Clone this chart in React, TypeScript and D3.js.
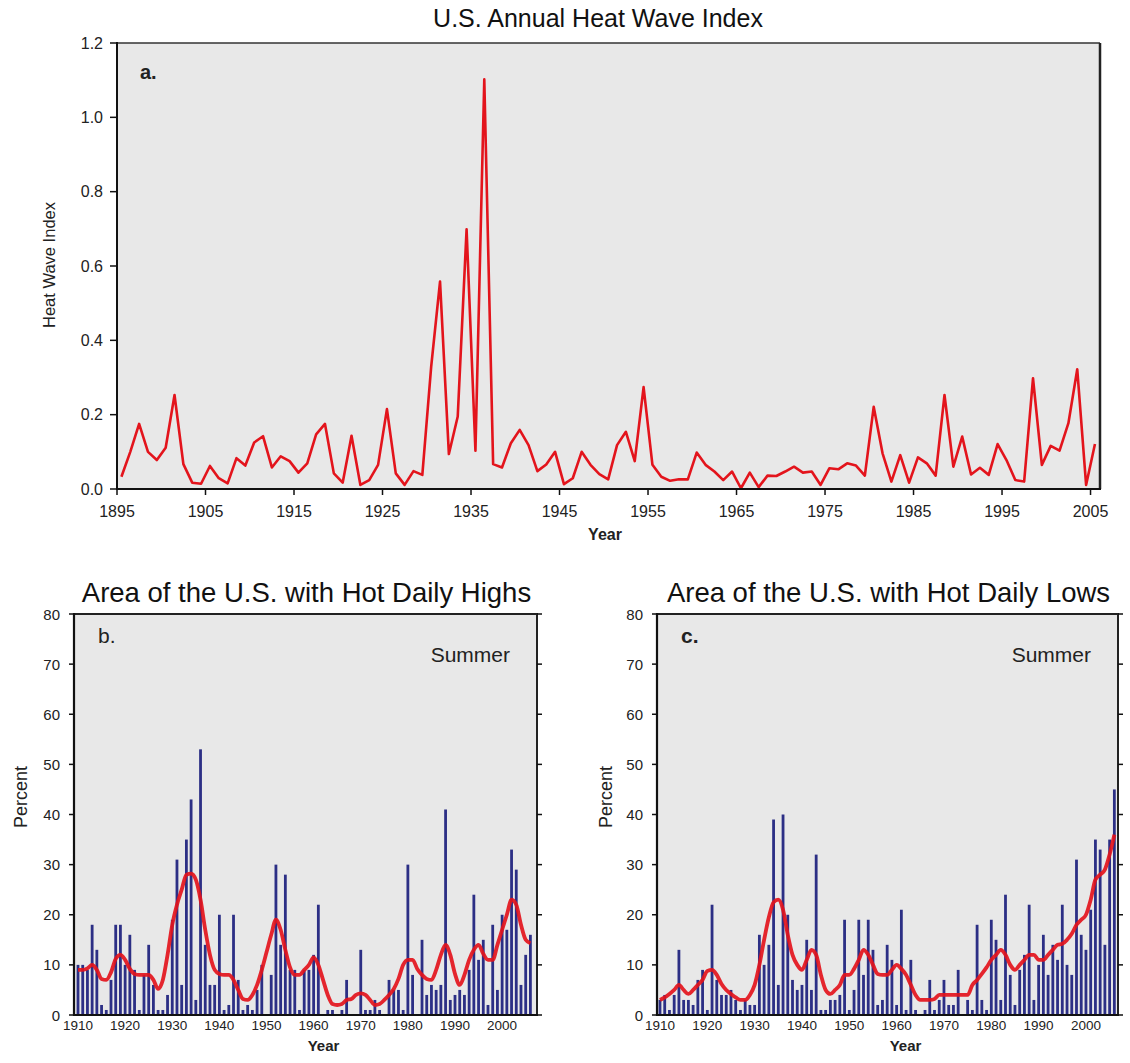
import React from "react";
import * as d3 from "d3";

// ---------- Panel a: U.S. Annual Heat Wave Index ----------
const heatYears: number[] = d3.range(1895, 2006);
const heatIndex: number[] = [
  0.033, 0.10, 0.175, 0.10, 0.078, 0.111, 0.253, 0.067, 0.017, 0.014,
  0.062, 0.029, 0.015, 0.083, 0.063, 0.125, 0.142, 0.058, 0.088, 0.075,
  0.044, 0.069, 0.147, 0.175, 0.042, 0.017, 0.143, 0.011, 0.024, 0.065,
  0.215, 0.042, 0.011, 0.048, 0.038, 0.329, 0.558, 0.094, 0.195, 0.699,
  0.103, 1.102, 0.067, 0.058, 0.123, 0.159, 0.118, 0.048, 0.066, 0.100,
  0.013, 0.029, 0.100, 0.065, 0.040, 0.026, 0.118, 0.154, 0.075, 0.274,
  0.065, 0.033, 0.022, 0.026, 0.026, 0.098, 0.065, 0.047, 0.024, 0.047,
  0.002, 0.044, 0.005, 0.036, 0.035, 0.047, 0.060, 0.044, 0.047, 0.011,
  0.056, 0.053, 0.069, 0.063, 0.036, 0.221, 0.096, 0.020, 0.091, 0.017,
  0.085, 0.069, 0.036, 0.253, 0.060, 0.141, 0.039, 0.057, 0.038, 0.121,
  0.078, 0.024, 0.020, 0.298, 0.065, 0.116, 0.103, 0.177, 0.322, 0.011,
  0.121,
];
const heatYTicks: number[] = [0, 0.2, 0.4, 0.6, 0.8, 1.0, 1.2];
const heatXTicks: number[] = [1895, 1905, 1915, 1925, 1935, 1945, 1955, 1965, 1975, 1985, 1995, 2005];

// ---------- Panels b & c ----------
const summerYears: number[] = d3.range(1910, 2007);
const highsPct: number[] = [
  10, 10, 9, 18, 13, 2, 1, 7, 18, 18,
  10, 16, 9, 1, 8, 14, 6, 1, 1, 4,
  19, 31, 6, 35, 43, 3, 53, 14, 6, 6,
  20, 1, 2, 20, 7, 1, 2, 1, 5, 10,
  0, 8, 30, 14, 28, 9, 9, 1, 9, 9,
  12, 22, 0, 1, 1, 0, 1, 7, 0, 0,
  13, 1, 1, 3, 1, 0, 7, 5, 5, 1,
  30, 8, 0, 15, 4, 6, 5, 6, 41, 3,
  4, 5, 4, 9, 24, 11, 15, 2, 18, 5,
  20, 17, 33, 29, 6, 12, 16,
];
const highsSmooth: number[] = [
  9, 9, 9.3, 10, 9, 7.2, 7, 8.5, 11.2, 12,
  11, 9.2, 8.2, 8, 8, 8, 7, 5.2, 7, 12,
  18, 22, 25, 28, 28.2, 27, 23, 17, 12, 9,
  8.2, 8, 8, 7, 5, 3.2, 3, 4, 6, 9,
  12.5, 16, 19, 17, 13, 9.5, 8, 8, 9, 10,
  11.5, 10, 7, 4, 2.2, 2, 2.2, 3, 3.2, 4,
  4.3, 4, 3, 2, 2.2, 3, 4, 5.2, 7.2, 10,
  11, 11, 9.2, 8, 7.2, 7, 9, 12, 14, 12,
  8.2, 6, 8, 11, 13, 14, 12.2, 11, 11, 14,
  17, 20, 23, 22, 18, 15, 14.3,
];
const lowsPct: number[] = [
  3, 4, 1, 4, 13, 3, 3, 2, 7, 9,
  1, 22, 7, 4, 4, 5, 3, 1, 3, 2,
  2, 16, 10, 14, 39, 6, 40, 20, 7, 5,
  6, 15, 5, 32, 1, 1, 3, 3, 4, 19,
  1, 5, 19, 8, 19, 13, 2, 3, 14, 11,
  2, 21, 1, 11, 1, 0, 1, 7, 1, 3,
  7, 2, 2, 9, 0, 3, 1, 18, 3, 1,
  19, 15, 3, 24, 8, 2, 9, 12, 22, 3,
  10, 16, 8, 14, 11, 22, 10, 8, 31, 16,
  13, 21, 35, 33, 14, 35, 45,
];
const lowsSmooth: number[] = [
  3, 3.5, 4.2, 5, 6, 5, 4.2, 5, 6, 7,
  8.8, 9, 8, 6.2, 5, 4.2, 3.5, 3, 3, 4,
  6, 10, 15, 19.5, 22.5, 23, 21, 16, 12, 10,
  9, 11, 13, 12, 8, 5, 4.2, 5, 6, 8,
  8, 9.2, 11, 13, 12, 10, 8.2, 8, 8, 9,
  10, 9.2, 8, 6, 4, 3, 3, 3, 3.2, 4,
  4, 4, 4, 4, 4, 4, 6, 7, 8.2, 9.5,
  11, 12, 13, 12, 10, 9, 10, 11, 12, 12,
  11, 11, 12, 13, 14, 14.2, 15, 16.2, 18, 19,
  20, 23, 27, 28, 29, 32, 36,
];
const pctTicks: number[] = [0, 10, 20, 30, 40, 50, 60, 70, 80];
const summerXTicks: number[] = [1910, 1920, 1930, 1940, 1950, 1960, 1970, 1980, 1990, 2000];

const FONT = "'Liberation Sans', Arial, Helvetica, sans-serif";
const BG = "#e8e8e8";
const RED = "#e3141c";
const BAR = "#2c2f85";

function HeatPanel() {
  const L = 117, R = 1100, T = 43, B = 489;
  const x = d3.scaleLinear().domain([1895, 2006.07]).range([L, R]);
  const y = d3.scaleLinear().domain([0, 1.2]).range([B, T]);
  const line = d3
    .line<number>()
    .x((_, i) => x(heatYears[i] + 0.5))
    .y((d) => y(d));
  return (
    <g fontFamily={FONT}>
      <text x={598} y={27} textAnchor="middle" fontSize={25} fill="#111">
        U.S. Annual Heat Wave Index
      </text>
      <rect x={L} y={T} width={R - L} height={B - T} fill={BG} />
      <path d={line(heatIndex) || ""} fill="none" stroke={RED} strokeWidth={2.6} strokeLinejoin="round" />
      <line x1={L} y1={T} x2={R} y2={T} stroke="#333" strokeWidth={1.5} />
      <line x1={R} y1={T} x2={R} y2={B} stroke="#222" strokeWidth={2.5} />
      <line x1={L} y1={T - 1} x2={L} y2={B + 1} stroke="#111" strokeWidth={2} />
      <line x1={L - 1} y1={B} x2={R + 1} y2={B} stroke="#111" strokeWidth={2} />
      {heatYTicks.map((t) => (
        <g key={t}>
          <line x1={L - 7} x2={L} y1={y(t)} y2={y(t)} stroke="#111" strokeWidth={1.5} />
          <text x={L - 14} y={y(t) + 5.5} textAnchor="end" fontSize={16} fill="#222">
            {t.toFixed(1)}
          </text>
        </g>
      ))}
      {heatXTicks.map((t) => (
        <g key={t}>
          <line x1={x(t)} x2={x(t)} y1={B} y2={B + 6} stroke="#111" strokeWidth={1.5} />
          <text x={x(t)} y={517} textAnchor="middle" fontSize={16} fill="#222">
            {t}
          </text>
        </g>
      ))}
      <text x={605} y={540} textAnchor="middle" fontSize={16} fontWeight="bold" fill="#222">
        Year
      </text>
      <text
        transform={`translate(55,265) rotate(-90)`}
        textAnchor="middle"
        fontSize={16.5}
        fill="#222"
      >
        Heat Wave Index
      </text>
      <text x={140} y={79} fontSize={20} fontWeight="bold" fill="#222">
        a.
      </text>
    </g>
  );
}

function SummerPanel(props: {
  L: number;
  R: number;
  x0: number;
  x1: number;
  title: string;
  letter: string;
  letterBold: boolean;
  values: number[];
  smooth: number[];
  percentX: number;
}) {
  const { L, R, x0, x1, title, letter, letterBold, values, smooth, percentX } = props;
  const T = 614, B = 1015;
  const x = d3.scaleLinear().domain([x0, x1]).range([L, R]);
  const y = d3.scaleLinear().domain([0, 80]).range([B, T]);
  const line = d3
    .line<number>()
    .x((_, i) => x(summerYears[i]))
    .y((d) => y(d))
    .curve(d3.curveMonotoneX);
  const barW = 2.8;
  const cx = (L + R) / 2;
  return (
    <g fontFamily={FONT}>
      <text x={cx + 1} y={602} textAnchor="middle" fontSize={27.5} fill="#111">
        {title}
      </text>
      <rect x={L} y={T} width={R - L} height={B - T} fill={BG} />
      {values.map((v, i) => (
        <rect
          key={i}
          x={x(summerYears[i]) - barW / 2}
          y={y(v)}
          width={barW}
          height={B - y(v)}
          fill={BAR}
        />
      ))}
      <path d={line(smooth) || ""} fill="none" stroke={RED} strokeWidth={3.8} strokeLinejoin="round" opacity={0.92} />
      <line x1={L} y1={T} x2={R} y2={T} stroke="#222" strokeWidth={2} />
      <line x1={R} y1={T - 1} x2={R} y2={B} stroke="#222" strokeWidth={2} />
      <line x1={L} y1={T - 1} x2={L} y2={B + 1} stroke="#111" strokeWidth={2.2} />
      <line x1={L - 1} y1={B} x2={R + 1} y2={B} stroke="#111" strokeWidth={2.2} />
      {pctTicks.map((t) => (
        <g key={t}>
          <line x1={L - 5} x2={L} y1={y(t)} y2={y(t)} stroke="#111" strokeWidth={1.5} />
          <line x1={R} x2={R + 5} y1={y(t)} y2={y(t)} stroke="#111" strokeWidth={1.5} />
          <text x={L - 14} y={y(t) + 5.5} textAnchor="end" fontSize={15} fill="#222">
            {t}
          </text>
        </g>
      ))}
      {summerXTicks.map((t) => (
        <text key={t} x={x(t)} y={1029.5} textAnchor="middle" fontSize={13.5} fill="#222">
          {t}
        </text>
      ))}
      <text x={cx + 18} y={1051} textAnchor="middle" fontSize={15} fontWeight="bold" fill="#222">
        Year
      </text>
      <text
        transform={`translate(${percentX},797) rotate(-90)`}
        textAnchor="middle"
        fontSize={18}
        fill="#222"
      >
        Percent
      </text>
      <text x={L + 24} y={643} fontSize={21} fontWeight={letterBold ? "bold" : "normal"} fill="#222">
        {letter}
      </text>
      <text x={R - 27} y={662} textAnchor="end" fontSize={21} fill="#222">
        Summer
      </text>
    </g>
  );
}

export default function App() {
  return (
    <svg
      width={1130}
      height={1063}
      style={{ position: "absolute", left: 0, top: 0, display: "block", background: "#fff" }}
    >
      <HeatPanel />
      <SummerPanel
        L={74}
        R={537}
        x0={1909.15}
        x1={2007.4}
        title="Area of the U.S. with Hot Daily Highs"
        letter="b."
        letterBold={false}
        values={highsPct}
        smooth={highsSmooth}
        percentX={27}
      />
      <SummerPanel
        L={657}
        R={1118}
        x0={1909.37}
        x1={2006.77}
        title="Area of the U.S. with Hot Daily Lows"
        letter="c."
        letterBold={true}
        values={lowsPct}
        smooth={lowsSmooth}
        percentX={612}
      />
    </svg>
  );
}
